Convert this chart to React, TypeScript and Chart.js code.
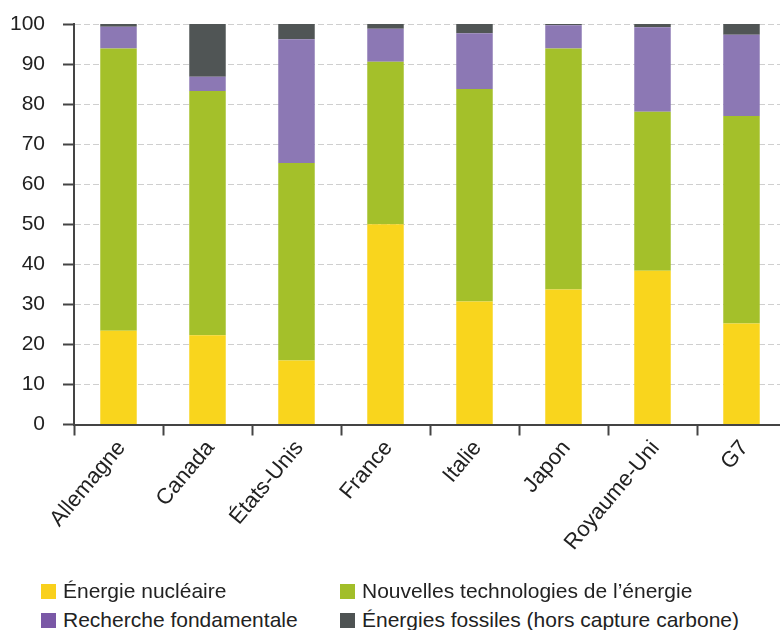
import React, { useEffect, useRef } from "react";
import { Chart, registerables } from "chart.js";

Chart.register(...registerables);

const categories = ["Allemagne", "Canada", "États-Unis", "France", "Italie", "Japon", "Royaume-Uni", "G7"];
const nucleaire = [23.4, 22.3, 16.0, 50.0, 30.7, 33.7, 38.4, 25.2];
const nouvelles = [70.5, 61.0, 49.3, 40.6, 53.1, 60.2, 39.7, 51.8];
const recherche = [5.4, 3.5, 30.9, 8.2, 13.9, 5.8, 21.1, 20.3];
const fossiles = [0.7, 13.2, 3.8, 1.2, 2.3, 0.3, 0.8, 2.7];

const seriesLabels = [
  "Énergie nucléaire",
  "Nouvelles technologies de l’énergie",
  "Recherche fondamentale",
  "Énergies fossiles (hors capture carbone)",
];
const barColors = ["#F9D51D", "#A4C02A", "#8C78B4", "#505555"];
const legendColors = ["#F9D01C", "#A2BE29", "#7A58A6", "#4E5353"];

const FONT = "'Liberation Sans', Arial, sans-serif";
const TEXT = "#222222";
const AXIS = "#444444";

export default function App() {
  const ref = useRef<HTMLCanvasElement | null>(null);

  useEffect(() => {
    if (!ref.current) return;
    const values = [nucleaire, nouvelles, recherche, fossiles];
    const chart = new Chart(ref.current, {
      type: "bar",
      data: {
        labels: categories,
        datasets: values.map((v, i) => ({
          label: seriesLabels[i],
          data: v,
          backgroundColor: barColors[i],
          borderWidth: 0,
          categoryPercentage: 1,
          barPercentage: 0.41,
        })),
      },
      options: {
        responsive: false,
        animation: false,
        layout: { padding: { top: 24, right: 14, left: 0, bottom: 0 } },
        plugins: { legend: { display: false }, tooltip: { enabled: false } },
        scales: {
          x: {
            stacked: true,
            afterFit: (s: any) => {
              s.height = 155.5;
            },
            grid: {
              drawOnChartArea: false,
              drawTicks: true,
              tickLength: 11,
              tickColor: AXIS,
              tickWidth: 2,
              offset: true,
            },
            border: { display: true, color: AXIS, width: 2 },
            ticks: {
              maxRotation: 50,
              minRotation: 50,
              color: TEXT,
              padding: 0,
              labelOffset: 3,
              font: { family: FONT, size: 22 },
            },
          },
          y: {
            stacked: true,
            min: 0,
            max: 100,
            afterFit: (s: any) => {
              s.width = 74;
              s.paddingTop = 0;
              s.paddingBottom = 0;
            },
            grid: {
              color: "#cfcfcf",
              lineWidth: 1,
              tickLength: 11,
              tickColor: AXIS,
              tickWidth: 2,
              tickBorderDash: [],
            },
            border: { display: true, color: AXIS, width: 2, dash: [6, 3] },
            ticks: {
              stepSize: 10,
              color: TEXT,
              padding: 18,
              font: { family: FONT, size: 21 },
            },
          },
        },
      },
    });
    return () => chart.destroy();
  }, []);

  const legendPos = [
    { left: 41, top: 580 },
    { left: 340, top: 580 },
    { left: 41, top: 609 },
    { left: 340, top: 609 },
  ];

  return (
    <div
      style={{
        position: "fixed",
        left: 0,
        top: 0,
        width: 780,
        height: 630,
        overflow: "hidden",
        background: "#ffffff",
      }}
    >
      <canvas ref={ref} width={800} height={580} style={{ position: "absolute", left: 0, top: 0 }} />
      {seriesLabels.map((lab, i) => (
        <div
          key={lab}
          style={{
            position: "absolute",
            left: legendPos[i].left,
            top: legendPos[i].top,
            height: 22,
            display: "flex",
            alignItems: "center",
            whiteSpace: "nowrap",
            fontFamily: FONT,
            fontSize: 21,
            color: TEXT,
          }}
        >
          <span
            style={{
              display: "inline-block",
              width: 15,
              height: 15,
              background: legendColors[i],
              marginRight: 7,
            }}
          />
          <span>{lab}</span>
        </div>
      ))}
    </div>
  );
}
